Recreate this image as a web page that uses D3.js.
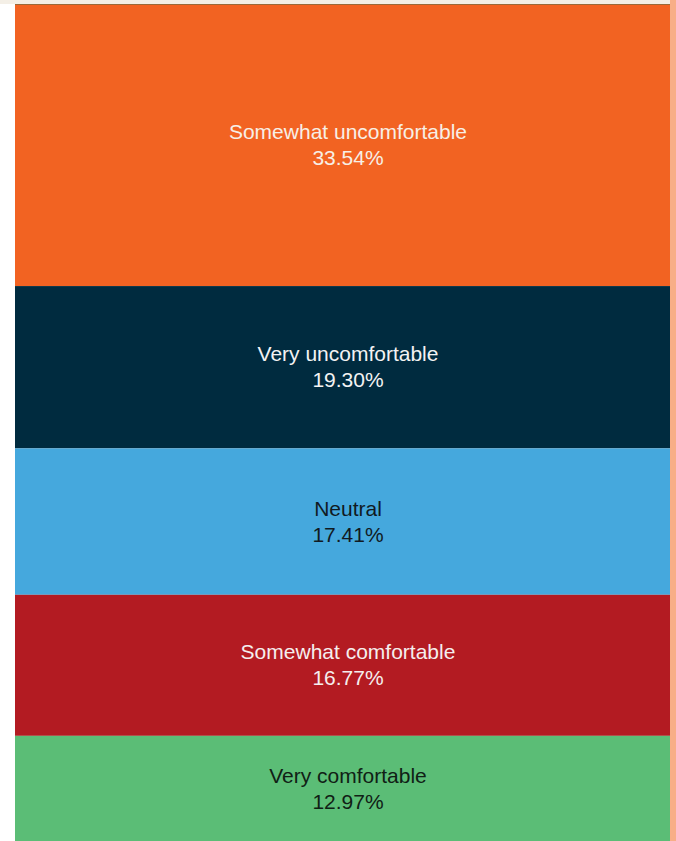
<!DOCTYPE html>
<html>
<head>
<meta charset="utf-8">
<script src="https://cdn.jsdelivr.net/npm/d3@7"></script>
<style>
  body { margin: 0; background: #fff; overflow: hidden; }
  svg text { font-family: "Liberation Sans", Arial, sans-serif; font-size: 21px; }
</style>
</head>
<body>
<div id="chart"></div>
<script>
let categories = ["Somewhat uncomfortable", "Very uncomfortable", "Neutral", "Somewhat comfortable", "Very comfortable"];
let values = [33.54, 19.30, 17.41, 16.77, 12.97];
let colors = ["#f26322", "#002b3f", "#45a8dd", "#b31b22", "#5bbd76"];
let textColors = ["#f7efe6", "#f3f3f3", "#111a22", "#f5eeee", "#102015"];

let width = 676, height = 841;

let svg = d3.select("#chart")
.append("svg")
.attr("width", width)
.attr("height", height);

// page strip behind the chart
svg.append("rect")
.attr("x", 0).attr("y", 0)
.attr("width", width).attr("height", 4)
.attr("fill", "#f4efe6");

svg.append("rect")
.attr("x", 670).attr("y", 0)
.attr("width", 6).attr("height", height)
.attr("fill", "#f8ae87");

let x = d3.scaleBand().domain(["all"]).range([15, 670]).padding(0);
let y = d3.scaleLinear().domain([0, 100]).range([4, 845]);

let stacked = [];
let acc = 0;
values.forEach(function(v, i) {
  stacked.push({cat: categories[i], val: v, y0: acc, y1: acc + v, i: i});
  acc += v;
});

let seg = svg.selectAll(".seg")
.data(stacked)
.enter().append("g")
.attr("class", "seg");

seg.append("rect")
.attr("x", x("all"))
.attr("width", x.bandwidth())
.attr("y", d => y(d.y0))
.attr("height", d => y(d.y1) - y(d.y0))
.attr("fill", d => colors[d.i]);

// thin top line
svg.append("line")
.attr("x1", 15).attr("x2", 670)
.attr("y1", 4.5).attr("y2", 4.5)
.attr("stroke", "#9a6a3a")
.attr("stroke-width", 1);

let labels = seg.append("text")
.attr("text-anchor", "middle")
.attr("fill", d => textColors[d.i])
.attr("x", 348)
.attr("y", d => (y(d.y0) + y(Math.min(d.y1, 100 * 837 / 841))) / 2);

labels.append("tspan")
.attr("x", 348)
.attr("dy", "-0.28em")
.text(d => d.cat);

labels.append("tspan")
.attr("x", 348)
.attr("dy", "1.24em")
.text(d => d.val.toFixed(2) + "%");
</script>
</body>
</html>
